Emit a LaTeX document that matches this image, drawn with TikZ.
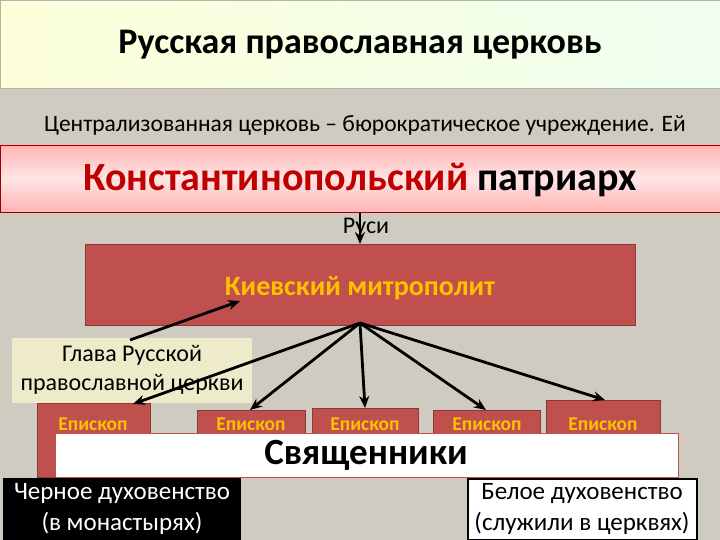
\documentclass[tikz,border=0pt]{standalone}
\usepackage{fontspec}
\setmainfont{Carlito}
\usetikzlibrary{arrows.meta}
\definecolor{bg}{HTML}{CFCBC0}
\definecolor{redbox}{HTML}{C0504D}
\definecolor{redline}{HTML}{8C3836}
\definecolor{gold}{HTML}{FFC000}
\definecolor{darkred}{HTML}{C00000}
\tikzset{
  px/.style={x=1pt,y=-1pt},
  ep/.style={draw=redline,fill=redbox,line width=0.8pt},
  eptxt/.style={text=gold,font=\bfseries\fontsize{19.5}{22}\selectfont},
  arr/.style={-{Stealth[length=12pt,width=10pt]},line width=2.8pt,black},
}
\begin{document}
\begin{tikzpicture}[px]
\fill[bg] (0,0) rectangle (720,540);
\useasboundingbox (0,0) rectangle (720,540);
% title band
\fill[left color=white!85!green!30!yellow!20, right color=white!80!green!30, draw=gray!60] (0,0) rectangle (720,88);
\node (title) at (360,45) {\bfseries\fontsize{36}{40}\selectfont Русская православная церковь};
\node (sub) at (365,125) {\fontsize{23.5}{28}\selectfont Централизованная церковь – бюрократическое учреждение. Ей};
% pink band
\shade[top color=red!30!white, bottom color=red!30!white, middle color=red!10!white] (0,145) rectangle (720,212);
\draw[red!60!black,line width=0.6pt] (0,145) rectangle (720,212);
\node (patr) at (360,180) {\bfseries\fontsize{40}{46}\selectfont\textcolor{darkred}{Константинопольский} патриарх};
\node (rusi) at (366,228) {\fontsize{24}{28}\selectfont Руси};
% Kiev box
\draw[ep] (85,244) rectangle (635,325);
\node[text=gold,font=\bfseries\fontsize{28}{32}\selectfont] (kiev) at (360,288) {Киевский митрополит};
\coordinate (kievtop) at (360,244);
\coordinate (kievbot) at (360,323);
\draw[arr] (360,213) -- (kievtop);
% Glava
\fill[fill=white!80!yellow!60!bg] (12,338) rectangle (252,403);
\node[align=center,font=\fontsize{24}{29}\selectfont] (glava) at (132,370) {Глава Русской\\православной церкви};
% bishops
\draw[ep] (37,403) rectangle (150,477);
\draw[ep] (197,410) rectangle (305,440);
\draw[ep] (312,408) rectangle (418,440);
\draw[ep] (433,410) rectangle (540,440);
\draw[ep] (546,400) rectangle (660,440);
\node[eptxt] (e1) at (93,424) {Епископ};
\node[eptxt] (e2) at (251,424) {Епископ};
\node[eptxt] (e3) at (365,424) {Епископ};
\node[eptxt] (e4) at (487,424) {Епископ};
\node[eptxt] (e5) at (603,424) {Епископ};
\coordinate (t1) at (133,404);
\coordinate (t2) at (250,410);
\coordinate (t3) at (365,408);
\coordinate (t4) at (486,410);
\coordinate (t5) at (605,400);
% priests
\draw[fill=white,draw=redbox,line width=1pt] (55,433) rectangle (678,477);
\node[font=\bfseries\fontsize{37}{42}\selectfont] (pr) at (366,455) {Священники};
% arrows
\coordinate (ga) at (130,340);
\coordinate (gb) at (240,301);
\draw[arr] (ga) -- (gb);
\foreach \t in {t1,t2,t3,t4,t5} \draw[arr] (kievbot) -- (\t);
% bottom boxes
\fill[black] (3,478) rectangle (241,540);
\node[text=white,align=center,font=\fontsize{25}{31}\selectfont] (black) at (122,509) {Черное духовенство\\(в монастырях)};
\draw[fill=white,line width=1.5pt] (468,479) rectangle (697,540);
\node[align=center,font=\fontsize{25}{31}\selectfont] (white) at (582,509) {Белое духовенство\\(служили в церквях)};
\end{tikzpicture}
\end{document}
